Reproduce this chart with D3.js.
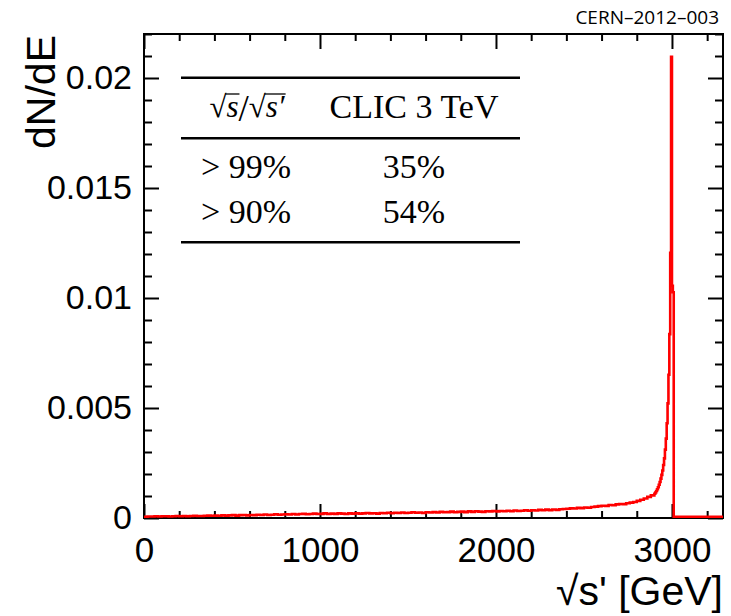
<!DOCTYPE html>
<html>
<head>
<meta charset="utf-8">
<script src="https://cdn.jsdelivr.net/npm/d3@7"></script>
<style>
  html, body { margin: 0; padding: 0; background: #fff; }
  svg { display: block; }
</style>
</head>
<body>
<svg id="chart" width="731" height="616"></svg>
<script>
// ---------------- data ----------------
// Luminosity spectrum dN/dE vs sqrt(s') [GeV], CLIC 3 TeV
const coarseStart = 0;      // GeV
const coarseWidth = 20;     // GeV bin width
const coarseValues = [
  0.00000, 0.00001, 0.00001, 0.00002, 0.00001, 0.00002, 0.00002, 0.00001, 0.00002, 0.00003,
  0.00002, 0.00003, 0.00002, 0.00003, 0.00004, 0.00003, 0.00003, 0.00004, 0.00005, 0.00004,
  0.00005, 0.00004, 0.00006, 0.00005, 0.00006, 0.00007, 0.00005, 0.00007, 0.00008, 0.00006,
  0.00008, 0.00007, 0.00009, 0.00008, 0.00010, 0.00008, 0.00009, 0.00011, 0.00009, 0.00010,
  0.00011, 0.00010, 0.00012, 0.00010, 0.00012, 0.00013, 0.00011, 0.00012, 0.00014, 0.00012,
  0.00013, 0.00015, 0.00012, 0.00014, 0.00013, 0.00015, 0.00014, 0.00012, 0.00015, 0.00014,
  0.00016, 0.00014, 0.00015, 0.00017, 0.00015, 0.00016, 0.00014, 0.00017, 0.00016, 0.00018,
  0.00016, 0.00018, 0.00017, 0.00019, 0.00017, 0.00018, 0.00020, 0.00018, 0.00019, 0.00017,
  0.00020, 0.00019, 0.00021, 0.00019, 0.00022, 0.00020, 0.00021, 0.00023, 0.00020, 0.00022,
  0.00023, 0.00021, 0.00024, 0.00022, 0.00025, 0.00023, 0.00022, 0.00025, 0.00024, 0.00026,
  0.00024, 0.00026, 0.00025, 0.00027, 0.00025, 0.00028, 0.00026, 0.00027, 0.00029, 0.00027,
  0.00029, 0.00028, 0.00031, 0.00029, 0.00032, 0.00030, 0.00033, 0.00031, 0.00034, 0.00035,
  0.00036, 0.00038, 0.00037, 0.00040, 0.00039, 0.00042, 0.00041, 0.00044, 0.00046, 0.00048,
  0.00050, 0.00049, 0.00053, 0.00052, 0.00056, 0.00058, 0.00057, 0.00061, 0.00064, 0.00067,
  0.00072, 0.00077, 0.00083, 0.00090, 0.00097
];
const fineStart = 2900;     // GeV
const fineWidth = 5;        // GeV bin width
const fineValues = [
  0.00104, 0.00110, 0.00117, 0.00125, 0.00134, 0.00145, 0.00158, 0.00173, 0.00190, 0.00210,
  0.00235, 0.00265, 0.00305, 0.00355, 0.00425, 0.00515, 0.00645, 0.00830, 0.01200, 0.02090,
  0.01050, 0.01020, 0.00000
];
const xTicksMajor = [0, 1000, 2000, 3000];
const xTicksMinor = [200, 400, 600, 800, 1200, 1400, 1600, 1800, 2200, 2400, 2600, 2800, 3200];
const yTicksMajor = [0, 0.005, 0.01, 0.015, 0.02];
const yTickLabels = ["0", "0.005", "0.01", "0.015", "0.02"];
const yTicksMinor = [0.001, 0.002, 0.003, 0.004, 0.006, 0.007, 0.008, 0.009, 0.011, 0.012, 0.013, 0.014,
                     0.016, 0.017, 0.018, 0.019, 0.021, 0.022];
const xDomain = [0, 3290];
const yDomain = [0, 0.022];
const tableHeader = ["CLIC 3 TeV"];
const tableRowLabels = ["> 99%", "> 90%"];
const tableRowValues = ["35%", "54%"];
const xTitle = "\u221As' [GeV]";
const yTitle = "dN/dE";
const docLabel = "CERN\u20132012\u2013003";

// ---------------- layout ----------------
const L = 144, R = 723, T = 34, B = 518;
const svg = d3.select("#chart");
const x = d3.scaleLinear().domain(xDomain).range([L, R]);
const y = d3.scaleLinear().domain(yDomain).range([B, T]);
const sansFont = "'Liberation Sans', Arial, Helvetica, sans-serif";
const serifFont = "'Liberation Serif', 'Times New Roman', serif";

// ---------------- axes ----------------
function styleAxis(g) {
  g.select(".domain").remove();
  g.selectAll(".tick line").attr("stroke", "#000").attr("stroke-width", 2);
  g.selectAll(".tick text").attr("fill", "#000");
}
// bottom
svg.append("g").attr("transform", `translate(0,${B})`)
  .call(d3.axisBottom(x).tickValues(xTicksMajor).tickSize(-14).tickPadding(19).tickFormat(d3.format("d")))
  .call(styleAxis)
  .call(g => g.selectAll(".tick text").attr("font-family", sansFont).attr("font-size", 35));
svg.append("g").attr("transform", `translate(0,${B})`)
  .call(d3.axisBottom(x).tickValues(xTicksMinor).tickSize(-7).tickFormat(""))
  .call(styleAxis);
// top
svg.append("g").attr("transform", `translate(0,${T})`)
  .call(d3.axisTop(x).tickValues(xTicksMajor).tickSize(-15).tickFormat(""))
  .call(styleAxis);
svg.append("g").attr("transform", `translate(0,${T})`)
  .call(d3.axisTop(x).tickValues(xTicksMinor).tickSize(-7).tickFormat(""))
  .call(styleAxis);
// left
svg.append("g").attr("transform", `translate(${L},0)`)
  .call(d3.axisLeft(y).tickValues(yTicksMajor).tickSize(-15).tickPadding(12)
        .tickFormat((d, i) => yTickLabels[i]))
  .call(styleAxis)
  .call(g => g.selectAll(".tick text").attr("font-family", sansFont).attr("font-size", 34));
svg.append("g").attr("transform", `translate(${L},0)`)
  .call(d3.axisLeft(y).tickValues(yTicksMinor).tickSize(-8).tickFormat(""))
  .call(styleAxis);
// right
svg.append("g").attr("transform", `translate(${R},0)`)
  .call(d3.axisRight(y).tickValues(yTicksMajor).tickSize(-15).tickFormat(""))
  .call(styleAxis);
svg.append("g").attr("transform", `translate(${R},0)`)
  .call(d3.axisRight(y).tickValues(yTicksMinor).tickSize(-8).tickFormat(""))
  .call(styleAxis);

// frame
svg.append("rect").attr("x", L).attr("y", T).attr("width", R - L).attr("height", B - T)
  .attr("fill", "none").attr("stroke", "#000").attr("stroke-width", 2);

// ---------------- histogram ----------------
const pts = [];
coarseValues.forEach((v, i) => pts.push([coarseStart + i * coarseWidth, v]));
fineValues.forEach((v, i) => pts.push([fineStart + i * fineWidth, v]));
pts.push([xDomain[1], 0]);

svg.append("defs").append("clipPath").attr("id", "clip")
  .append("rect").attr("x", L).attr("y", T).attr("width", R - L).attr("height", B - T + 1);

svg.append("path")
  .datum(pts)
  .attr("clip-path", "url(#clip)")
  .attr("fill", "none")
  .attr("stroke", "#ff0000")
  .attr("stroke-width", 2.6)
  .attr("d", d3.line().x(d => x(d[0])).y(d => y(d[1]) - 1.3).curve(d3.curveStepAfter));

// ---------------- titles ----------------
svg.append("text")
  .attr("transform", `translate(55,${T + 1}) rotate(-90)`)
  .attr("text-anchor", "end")
  .attr("font-family", sansFont).attr("font-size", 41)
  .text(yTitle);

svg.append("text")
  .attr("x", R).attr("y", 605)
  .attr("text-anchor", "end")
  .attr("font-family", sansFont).attr("font-size", 41)
  .text(xTitle);

svg.append("text")
  .attr("x", 719).attr("y", 24)
  .attr("text-anchor", "end")
  .attr("font-family", "'Open Sans', 'Noto Sans', sans-serif").attr("font-size", 19)
  .text(docLabel);

// ---------------- table ----------------
const tbl = svg.append("g");
[77.7, 138.3, 242.3].forEach(yy => {
  tbl.append("line").attr("x1", 181).attr("x2", 520).attr("y1", yy).attr("y2", yy)
    .attr("stroke", "#000").attr("stroke-width", 2.5);
});
const colA = 246, colB = 414;
tbl.append("text").attr("x", colB).attr("y", 118).attr("text-anchor", "middle")
  .attr("font-family", serifFont).attr("font-size", 34).text(tableHeader[0]);
tableRowLabels.forEach((t, i) => {
  tbl.append("text").attr("x", colA).attr("y", 178 + i * 45).attr("text-anchor", "middle")
    .attr("font-family", serifFont).attr("font-size", 34).text(t);
  tbl.append("text").attr("x", colB).attr("y", 178 + i * 45).attr("text-anchor", "middle")
    .attr("font-family", serifFont).attr("font-size", 34).text(tableRowValues[i]);
});
// header sqrt(s)/sqrt(s')
const hdr = tbl.append("text").attr("x", colA + 1).attr("y", 117).attr("text-anchor", "middle")
  .attr("font-family", serifFont).attr("font-size", 31);
hdr.append("tspan").text("\u221A");
hdr.append("tspan").attr("font-style", "italic").text("s");
hdr.append("tspan").attr("font-size", 37).attr("dy", 4).text("/");
hdr.append("tspan").attr("dy", -4).text("\u221A");
hdr.append("tspan").attr("font-style", "italic").text("s\u2032");
// overbars for the radicals
const hnode = hdr.node();
[[1, 1], [4, 5]].forEach(([a, b]) => {
  const x1 = hnode.getStartPositionOfChar(a).x;
  const x2 = hnode.getEndPositionOfChar(b).x;
  tbl.append("line").attr("x1", x1 - 1).attr("x2", x2 + 1).attr("y1", 94).attr("y2", 94)
    .attr("stroke", "#000").attr("stroke-width", 1.3);
});
</script>
</body>
</html>
